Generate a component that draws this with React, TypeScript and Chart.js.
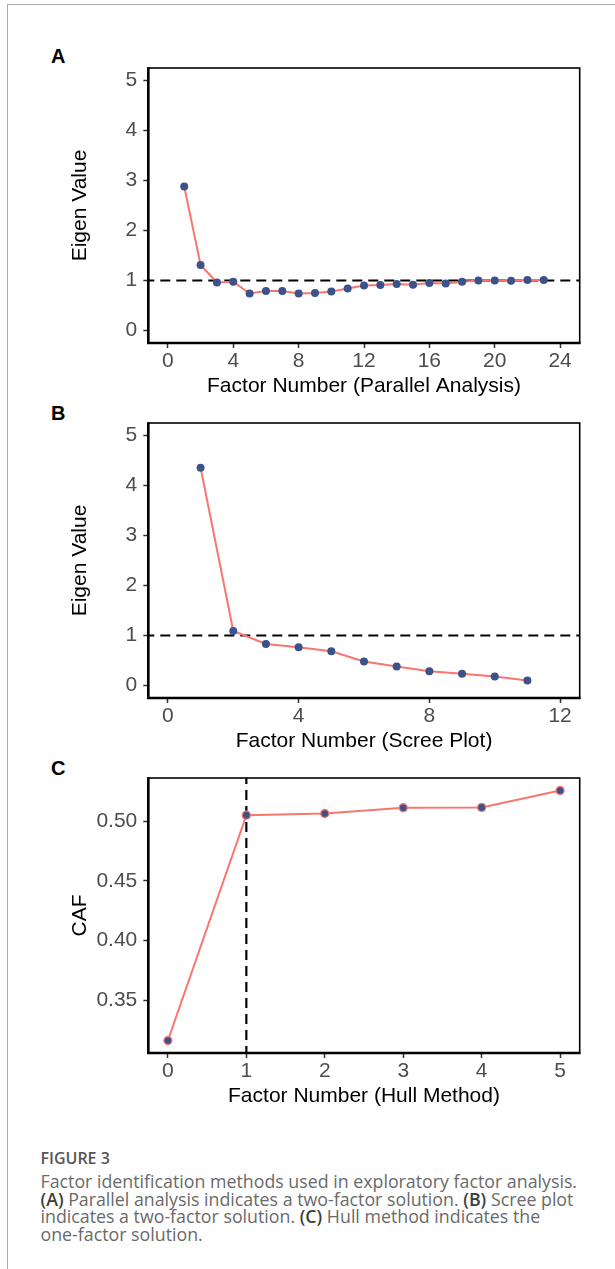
import React, { useEffect, useRef } from "react";
import { Chart, registerables } from "chart.js";

Chart.register(...registerables);

// ---------- data ----------
const parallelFactors = [1, 2, 3, 4, 5, 6, 7, 8, 9, 10, 11, 12, 13, 14, 15, 16, 17, 18, 19, 20, 21, 22, 23];
const parallelEigen = [2.88, 1.31, 0.96, 0.975, 0.74, 0.79, 0.79, 0.74, 0.75, 0.78, 0.84, 0.9, 0.91, 0.93, 0.915, 0.95, 0.94, 0.975, 1.0, 1.0, 0.995, 1.01, 1.01];
const parallelXTicks = [0, 4, 8, 12, 16, 20, 24];
const eigenYTicks = [0, 1, 2, 3, 4, 5];

const screeFactors = [1, 2, 3, 4, 5, 6, 7, 8, 9, 10, 11];
const screeEigen = [4.355, 1.09, 0.83, 0.765, 0.685, 0.48, 0.38, 0.286, 0.233, 0.18, 0.1];
const screeXTicks = [0, 4, 8, 12];

const hullFactors = [0, 1, 2, 3, 4, 5];
const hullCAF = [0.316, 0.5053, 0.5067, 0.5115, 0.5118, 0.526];
const hullXTicks = [0, 1, 2, 3, 4, 5];
const hullYTicks = [0.35, 0.4, 0.45, 0.5];

const kaiserCriterion = 1;
const hullSelected = 1;

// ---------- style ----------
const RED = "#F8766D";
const BLUE = "#3B528B";
const FONT = '"Liberation Sans", Arial, Helvetica, sans-serif';
const TICK_FONT_SIZE = 21;

const expand = (lo: number, hi: number) => {
  const d = (hi - lo) * 0.05;
  return [lo - d, hi + d];
};

const framePlugin = {
  id: "frame",
  afterDatasetsDraw(chart: any) {
    const { ctx, chartArea } = chart;
    const { left, right, top, bottom } = chartArea;
    ctx.save();
    ctx.strokeStyle = "#000";
    ctx.lineWidth = 1.6;
    ctx.strokeRect(left, top, right - left, bottom - top);
    ctx.lineWidth = 2.6;
    ctx.beginPath();
    ctx.moveTo(left, top - 0.8);
    ctx.lineTo(left, bottom);
    ctx.lineTo(right + 0.8, bottom);
    ctx.stroke();
    ctx.restore();
  },
};

const refLinePlugin = {
  id: "refLines",
  beforeDatasetsDraw(chart: any, _args: any, opts: any) {
    const { ctx, chartArea, scales } = chart;
    ctx.save();
    ctx.beginPath();
    ctx.rect(chartArea.left, chartArea.top, chartArea.right - chartArea.left, chartArea.bottom - chartArea.top);
    ctx.clip();
    ctx.setLineDash([10, 6]);
    ctx.lineDashOffset = 4;
    ctx.lineWidth = 2.2;
    ctx.strokeStyle = "#000";
    if (opts && opts.y != null) {
      const py = scales.y.getPixelForValue(opts.y);
      ctx.beginPath();
      ctx.moveTo(chartArea.left, py);
      ctx.lineTo(chartArea.right, py);
      ctx.stroke();
    }
    if (opts && opts.x != null) {
      const px = scales.x.getPixelForValue(opts.x);
      ctx.beginPath();
      ctx.moveTo(px, chartArea.top);
      ctx.lineTo(px, chartArea.bottom);
      ctx.stroke();
    }
    ctx.restore();
  },
};

type PanelSpec = {
  xs: number[];
  ys: number[];
  xRange: number[];
  yRange: number[];
  xTicks: number[];
  yTicks: number[];
  xTitle: string;
  yTitle: string;
  yDecimals: number;
  ref: { x?: number; y?: number };
  pointBorder: string;
  pointBorderWidth: number;
};

const CANVAS_W = 615;
const CANVAS_H = 365;

function buildConfig(p: PanelSpec): any {
  const tickFont = { family: FONT, size: TICK_FONT_SIZE };
  return {
    type: "line",
    data: {
      datasets: [
        {
          data: p.xs.map((x, i) => ({ x, y: p.ys[i] })),
          borderColor: RED,
          borderWidth: 2,
          pointRadius: 4,
          pointBackgroundColor: BLUE,
          pointBorderColor: p.pointBorder,
          pointBorderWidth: p.pointBorderWidth,
          tension: 0,
          fill: false,
        },
      ],
    },
    options: {
      animation: false,
      responsive: false,
      devicePixelRatio: 1,
      layout: { padding: { left: 48.3, right: 35.3, top: 30, bottom: 0 } },
      plugins: {
        legend: { display: false },
        tooltip: { enabled: false },
        refLines: p.ref,
      },
      scales: {
        x: {
          type: "linear",
          min: p.xRange[0],
          max: p.xRange[1],
          afterBuildTicks: (s: any) => {
            s.ticks = p.xTicks.map((v) => ({ value: v }));
          },
          afterFit: (s: any) => {
            s.height = 60;
          },
          grid: { display: true, drawOnChartArea: false, drawTicks: true, tickLength: 5, tickWidth: 1.5, tickColor: "#333" },
          border: { display: false },
          ticks: {
            autoSkip: false,
            maxRotation: 0,
            padding: 1,
            color: "#4D4D4D",
            font: tickFont,
            callback: (v: any) => String(v),
          },
          title: {
            display: true,
            text: p.xTitle,
            color: "#000",
            font: { family: FONT, size: TICK_FONT_SIZE },
            padding: { top: 0, bottom: 3.7 },
          },
        },
        y: {
          type: "linear",
          min: p.yRange[0],
          max: p.yRange[1],
          afterBuildTicks: (s: any) => {
            s.ticks = p.yTicks.map((v) => ({ value: v }));
          },
          afterFit: (s: any) => {
            s.width = 100;
          },
          grid: { display: true, drawOnChartArea: false, drawTicks: true, tickLength: 5, tickWidth: 1.5, tickColor: "#333" },
          border: { display: false },
          ticks: {
            autoSkip: false,
            padding: 6,
            color: "#4D4D4D",
            font: tickFont,
            callback: (v: any) => Number(v).toFixed(p.yDecimals),
          },
          title: {
            display: true,
            text: p.yTitle,
            color: "#000",
            font: { family: FONT, size: TICK_FONT_SIZE },
            padding: { top: 19.5, bottom: 0 },
          },
        },
      },
    },
    plugins: [refLinePlugin, framePlugin],
  };
}

function Panel({ spec, top }: { spec: PanelSpec; top: number }) {
  const ref = useRef<HTMLCanvasElement | null>(null);
  useEffect(() => {
    if (!ref.current) return;
    const chart = new Chart(ref.current, buildConfig(spec));
    return () => chart.destroy();
  }, []);
  return (
    <canvas
      ref={ref}
      width={CANVAS_W}
      height={CANVAS_H}
      style={{ position: "absolute", left: 0, top, width: CANVAS_W, height: CANVAS_H }}
    />
  );
}

const panelA: PanelSpec = {
  xs: parallelFactors,
  ys: parallelEigen,
  xRange: expand(0, 24),
  yRange: expand(0, 5),
  xTicks: parallelXTicks,
  yTicks: eigenYTicks,
  xTitle: "Factor Number (Parallel Analysis)",
  yTitle: "Eigen Value",
  yDecimals: 0,
  ref: { y: kaiserCriterion },
  pointBorder: BLUE,
  pointBorderWidth: 0,
};

const panelB: PanelSpec = {
  xs: screeFactors,
  ys: screeEigen,
  xRange: expand(0, 12),
  yRange: expand(0, 5),
  xTicks: screeXTicks,
  yTicks: eigenYTicks,
  xTitle: "Factor Number (Scree Plot)",
  yTitle: "Eigen Value",
  yDecimals: 0,
  ref: { y: kaiserCriterion },
  pointBorder: BLUE,
  pointBorderWidth: 0,
};

const panelC: PanelSpec = {
  xs: hullFactors,
  ys: hullCAF,
  xRange: expand(0, 5),
  yRange: expand(Math.min(...hullCAF), Math.max(...hullCAF)),
  xTicks: hullXTicks,
  yTicks: hullYTicks,
  xTitle: "Factor Number (Hull Method)",
  yTitle: "CAF",
  yDecimals: 2,
  ref: { x: hullSelected },
  pointBorder: RED,
  pointBorderWidth: 1.3,
};

const letterStyle = (top: number): React.CSSProperties => ({
  position: "absolute",
  left: 51,
  top,
  fontFamily: FONT,
  fontWeight: 700,
  fontSize: 20,
  lineHeight: "20px",
  color: "#000",
});

const boldRef: React.CSSProperties = { fontWeight: 600, color: "#3d3d3d" };

export default function App() {
  return (
    <div
      style={{
        position: "absolute",
        left: 0,
        top: 0,
        width: 615,
        height: 1269,
        overflow: "hidden",
        background: "#fff",
      }}
    >
      <div
        style={{
          position: "absolute",
          left: 7,
          top: 4,
          width: 700,
          height: 1400,
          borderTop: "1px solid #aaa",
          borderLeft: "1px solid #aaa",
        }}
      />
      <div style={letterStyle(46)}>A</div>
      <div style={letterStyle(403)}>B</div>
      <div style={letterStyle(758)}>C</div>
      <Panel spec={panelA} top={38.3} />
      <Panel spec={panelB} top={393.3} />
      <Panel spec={panelC} top={747.7} />
      <div
        style={{
          position: "absolute",
          left: 40.5,
          top: 1149,
          fontFamily: '"Open Sans", "Noto Sans", sans-serif',
          fontWeight: 600,
          fontSize: 16,
          lineHeight: "18px",
          color: "#555",
          whiteSpace: "nowrap",
        }}
      >
        FIGURE 3
      </div>
      <div
        style={{
          position: "absolute",
          left: 40.5,
          top: 1172.8,
          fontFamily: '"Open Sans", "Noto Sans", sans-serif',
          fontWeight: 400,
          fontSize: 17.8,
          lineHeight: "17.8px",
          color: "#6a6a6a",
          whiteSpace: "nowrap",
        }}
      >
        Factor identification methods used in exploratory factor analysis.
        <br />
        <b style={boldRef}>(A)</b> Parallel analysis indicates a two-factor solution. <b style={boldRef}>(B)</b> Scree plot
        <br />
        indicates a two-factor solution. <b style={boldRef}>(C)</b> Hull method indicates the
        <br />
        one-factor solution.
      </div>
    </div>
  );
}
